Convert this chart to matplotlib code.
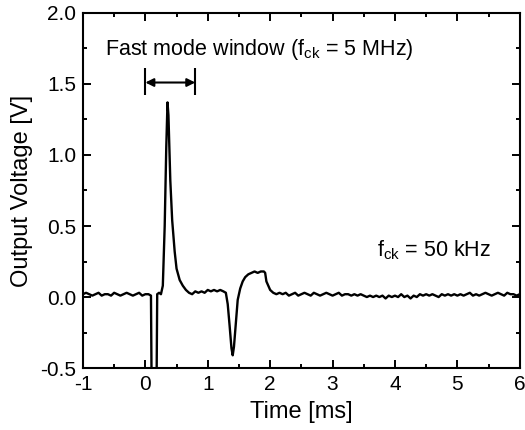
import matplotlib
matplotlib.use("Agg")
import matplotlib.pyplot as plt
from matplotlib.ticker import MultipleLocator, FormatStrFormatter

plt.rcParams['font.family'] = ['Liberation Sans', 'DejaVu Sans']
plt.rcParams['mathtext.fontset'] = 'custom'
plt.rcParams['mathtext.rm'] = 'Liberation Sans'
plt.rcParams['axes.unicode_minus'] = False

# Trace (time in ms, output voltage in V)
t_pre = [-1.00, -0.95, -0.90, -0.85, -0.80, -0.75, -0.70, -0.65, -0.60, -0.55,
         -0.50, -0.45, -0.40, -0.35, -0.30, -0.25, -0.20, -0.15, -0.10, -0.05,
         0.00, 0.05, 0.09]
v_pre = [0.02, 0.03, 0.02, 0.01, 0.02, 0.03, 0.01, 0.02, 0.02, 0.01,
         0.03, 0.02, 0.01, 0.02, 0.03, 0.02, 0.01, 0.02, 0.03, 0.01,
         0.02, 0.02, 0.01]

t_pulse = [0.10, 0.18, 0.19, 0.22, 0.25, 0.28, 0.31, 0.335, 0.355, 0.37,
           0.40, 0.43, 0.47, 0.50, 0.55, 0.60, 0.65, 0.70, 0.75, 0.80,
           0.85, 0.90, 0.95, 1.00, 1.05, 1.10, 1.15, 1.20, 1.25, 1.29,
           1.32, 1.35, 1.38, 1.40, 1.42, 1.45, 1.48, 1.52, 1.56, 1.60,
           1.65, 1.70, 1.75, 1.80, 1.85, 1.90, 1.92, 1.94, 1.97, 2.00,
           2.05]
v_pulse = [-0.60, -0.60, 0.02, 0.03, 0.02, 0.08, 0.50, 1.05, 1.37, 1.28,
           0.82, 0.54, 0.32, 0.20, 0.12, 0.08, 0.05, 0.03, 0.02, 0.04,
           0.03, 0.04, 0.03, 0.05, 0.04, 0.05, 0.04, 0.05, 0.04, 0.03,
           -0.05, -0.20, -0.36, -0.41, -0.35, -0.18, -0.02, 0.06, 0.11, 0.14,
           0.16, 0.17, 0.18, 0.17, 0.18, 0.18, 0.17, 0.11, 0.08, 0.05,
           0.03]

t_post = [round(2.10 + 0.05 * i, 2) for i in range(79)]
v_post = [0.02, 0.03, 0.02, 0.03, 0.01, 0.02, 0.03, 0.01, 0.02, 0.03,
          0.02, 0.01, 0.03, 0.02, 0.01, 0.02, 0.03, 0.02, 0.01, 0.02,
          0.03, 0.01, 0.02, 0.02, 0.01, 0.02, 0.01, 0.02, 0.01, 0.00,
          0.01, 0.00, 0.01, 0.00, 0.01, -0.01, 0.01, 0.00, 0.01, 0.00,
          0.02, 0.00, 0.01, -0.01, 0.01, 0.00, 0.02, 0.01, 0.02, 0.01,
          0.02, 0.01, 0.00, 0.02, 0.01, 0.02, 0.01, 0.02, 0.01, 0.02,
          0.01, 0.02, 0.03, 0.01, 0.02, 0.01, 0.02, 0.03, 0.02, 0.01,
          0.02, 0.03, 0.02, 0.01, 0.03, 0.02, 0.02, 0.01, 0.02]

time_ms = t_pre + t_pulse + t_post
voltage = v_pre + v_pulse + v_post

# fast mode window limits (ms)
win_start, win_end = 0.0, 0.8

fig = plt.figure(figsize=(5.25, 4.3), dpi=100)
ax = fig.add_axes([0.158, 0.144, 0.832, 0.826])

ax.plot(time_ms, voltage, color='black', lw=1.7)

# window marker
ax.vlines([win_start, win_end], 1.42, 1.61, color='black', lw=1.5)
ax.annotate('', xy=(win_end, 1.51), xytext=(win_start, 1.51),
            arrowprops=dict(arrowstyle='<|-|>', color='black', lw=1.5,
                            shrinkA=0, shrinkB=0, mutation_scale=12))
ax.text(-0.64, 1.74, r'Fast mode window ($\mathregular{f_{ck}}$ = 5 MHz)',
        fontsize=15.5, va='center', ha='left')
ax.text(3.72, 0.33, r'$\mathregular{f_{ck}}$ = 50 kHz',
        fontsize=15.5, va='center', ha='left')

ax.set_xlim(-1, 6)
ax.set_ylim(-0.5, 2.0)
ax.xaxis.set_major_locator(MultipleLocator(1))
ax.xaxis.set_minor_locator(MultipleLocator(0.5))
ax.yaxis.set_major_locator(MultipleLocator(0.5))
ax.yaxis.set_minor_locator(MultipleLocator(0.25))
ax.yaxis.set_major_formatter(FormatStrFormatter('%.1f'))
ax.tick_params(which='both', direction='in', top=True, right=True,
               width=1.4, labelsize=15)
ax.tick_params(which='major', length=6, pad=5)
ax.tick_params(which='minor', length=3)
for sp in ax.spines.values():
    sp.set_linewidth(1.5)

ax.set_xlabel('Time [ms]', fontsize=17, labelpad=5)
ax.set_ylabel('Output Voltage [V]', fontsize=17, labelpad=5)

fig.savefig('out.png', dpi=100)
